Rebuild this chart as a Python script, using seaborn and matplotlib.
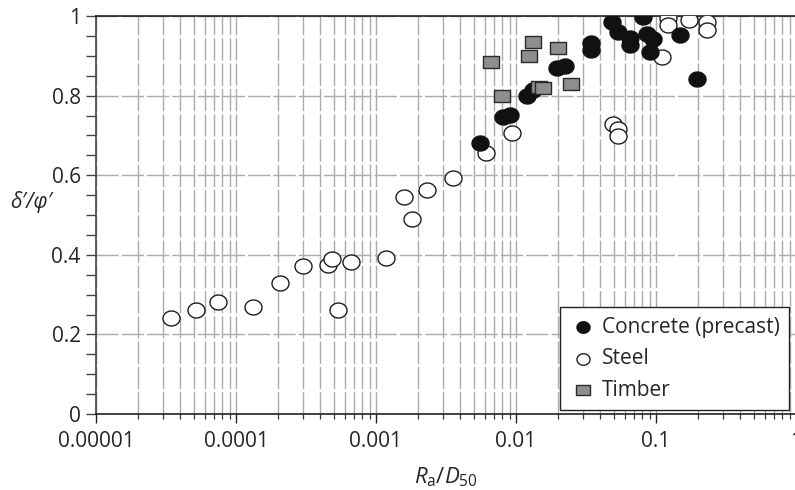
import numpy as np
import pandas as pd
import matplotlib
matplotlib.use("Agg")
import matplotlib.pyplot as plt
import matplotlib.ticker as mticker
from matplotlib.path import Path
import seaborn as sns

# data (x = Ra/D50, y = delta'/phi')
concrete_x = [0.0055, 0.0081, 0.0090, 0.0119, 0.0133, 0.0195, 0.0224, 0.0341, 0.0341,
              0.0488, 0.0538, 0.0652, 0.0652, 0.0811, 0.0857, 0.0946, 0.0906, 0.148, 0.195]
concrete_y = [0.680, 0.747, 0.751, 0.799, 0.813, 0.869, 0.875, 0.932, 0.915,
              0.986, 0.959, 0.944, 0.927, 0.997, 0.956, 0.941, 0.909, 0.953, 0.842]

steel_x = [3.44e-5, 5.15e-5, 7.48e-5, 1.32e-4, 2.06e-4, 3.03e-4, 4.56e-4, 4.82e-4,
           5.38e-4, 6.63e-4, 1.17e-3, 1.59e-3, 1.82e-3, 2.30e-3, 3.56e-3, 6.11e-3,
           9.3e-3, 0.0496, 0.0538, 0.0538, 0.1097, 0.122, 0.122, 0.173, 0.232, 0.232]
steel_y = [0.240, 0.261, 0.282, 0.270, 0.328, 0.372, 0.374, 0.389,
           0.261, 0.381, 0.391, 0.546, 0.490, 0.563, 0.592, 0.657,
           0.706, 0.729, 0.715, 0.698, 0.896, 0.994, 0.977, 0.990, 0.984, 0.965]

timber_x = [0.00663, 0.0079, 0.0124, 0.0133, 0.0147, 0.0157, 0.0200, 0.0246]
timber_y = [0.884, 0.800, 0.899, 0.935, 0.822, 0.818, 0.919, 0.828]

labels = ["Concrete (precast)", "Steel", "Timber"]
x_ticks = [1e-5, 1e-4, 1e-3, 1e-2, 1e-1, 1]
x_tick_labels = ["0.00001", "0.0001", "0.001", "0.01", "0.1", "1"]
y_ticks = [0, 0.2, 0.4, 0.6, 0.8, 1]
y_tick_labels = ["0", "0.2", "0.4", "0.6", "0.8", "1"]

# style
sns.set_style("ticks")
plt.rcParams["font.family"] = ["Open Sans", "DejaVu Sans"]
plt.rcParams["mathtext.fontset"] = "custom"
plt.rcParams["mathtext.rm"] = "Open Sans"
plt.rcParams["mathtext.it"] = "Open Sans:italic"
plt.rcParams["font.size"] = 15

# slightly wide circle marker, like the scanned figure
t = np.linspace(0, 2 * np.pi, 73)
ellipse = Path(np.column_stack([0.5 * np.cos(t), 0.44 * np.sin(t)]), closed=True)
rect = Path([(-0.5, -0.42), (0.5, -0.42), (0.5, 0.42), (-0.5, 0.42), (-0.5, -0.42)], closed=True)

fig = plt.figure(figsize=(7.95, 4.90), dpi=100)
ax = fig.add_axes([96 / 795, 76 / 490, 700 / 795, 398 / 490])

grid_kw = dict(color="#ababab", linewidth=1.0, linestyle=(0, (16, 2.2)), zorder=0)

# draw order: steel, concrete, timber (legend order fixed later)
sns.scatterplot(x=steel_x, y=steel_y, ax=ax, marker=ellipse, s=150, color="white",
                edgecolor="#1e1e1e", linewidth=1.0, label=labels[1], zorder=3)
sns.scatterplot(x=concrete_x, y=concrete_y, ax=ax, marker=ellipse, s=150, color="#111111",
                edgecolor="#111111", linewidth=1.0, label=labels[0], zorder=3)
sns.scatterplot(x=timber_x, y=timber_y, ax=ax, marker=rect, s=118, color="#8e8e8e",
                edgecolor="#2a2a2a", linewidth=1.0, label=labels[2], zorder=3)

ax.set_xscale("log")
ax.set_xlim(1e-5, 1)
ax.set_ylim(0, 1)

ax.set_xticks(x_ticks)
ax.set_xticklabels(x_tick_labels)
ax.xaxis.set_minor_locator(mticker.LogLocator(base=10, subs=np.arange(2, 10)))
ax.xaxis.set_minor_formatter(mticker.NullFormatter())
ax.set_yticks(y_ticks)
ax.set_yticklabels(y_tick_labels)
ax.yaxis.set_minor_locator(mticker.MultipleLocator(0.05))

# grid
ax.xaxis.grid(True, which="both", **grid_kw)
ax.yaxis.grid(True, which="major", **grid_kw)
ax.set_axisbelow(True)

ax.tick_params(axis="x", which="major", direction="out", length=6.5, width=1.0, color="#222222",
               labelsize=15, pad=5.5)
ax.tick_params(axis="x", which="minor", direction="out", length=3.6, width=0.9, color="#333333")
ax.tick_params(axis="y", which="both", direction="out", length=7, width=1.0, color="#444444",
               labelsize=15, pad=4)

for side in ["top", "bottom"]:
    ax.spines[side].set_color("#111111")
    ax.spines[side].set_linewidth(1.1)
ax.spines["left"].set_color("#444444")
ax.spines["left"].set_linewidth(1.2)
ax.spines["right"].set_visible(False)

ax.set_xlabel(r"$R_{\mathrm{a}}/D_{\mathrm{50}}$", fontsize=16, labelpad=10)
ax.set_ylabel("δ′/φ′", fontsize=15, rotation=0, fontstyle="italic", labelpad=0)
ax.yaxis.set_label_coords(-0.092, 0.505)

# legend in original order
handles, labs = ax.get_legend_handles_labels()
order = [labs.index(l) for l in labels]
leg = ax.legend([handles[i] for i in order], [labs[i] for i in order],
                loc="lower right", bbox_to_anchor=(0.99, 0.01), borderaxespad=0,
                frameon=True, fancybox=False, framealpha=1, edgecolor="#222222",
                fontsize=15, handletextpad=0.25, labelspacing=0.5, borderpad=0.45,
                handlelength=1.3)
leg.get_frame().set_linewidth(1.0)
for h in leg.legend_handles:
    h.set_sizes([88])

fig.savefig("out.png", dpi=100)
